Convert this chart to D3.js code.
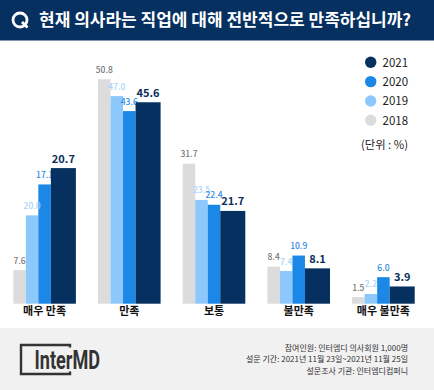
<!DOCTYPE html>
<html>
<head>
<meta charset="utf-8">
<script src="https://cdn.jsdelivr.net/npm/d3@7"></script>
<style>
  html, body { margin: 0; padding: 0; background: #fff; }
  svg { display: block; }
  text { font-family: "Noto Sans CJK KR", "Noto Sans", sans-serif; }
</style>
</head>
<body>
<svg id="chart" width="434" height="390"></svg>
<script>
const categories = ["매우 만족", "만족", "보통", "불만족", "매우 불만족"];
const years = ["2018", "2019", "2020", "2021"];

// printed labels
const labels2018 = [7.6, 50.8, 31.7, 8.4, 1.5];
const labels2019 = [20.0, 47.0, 23.5, 7.4, 2.2];
const labels2020 = [17.1, 43.6, 22.4, 10.9, 6.0];
const labels2021 = [20.7, 45.6, 21.7, 8.1, 3.9];

// bar heights as drawn. the first group's 2020 and 2021 bars are taller
// in the picture than their printed numbers, so they are read separately
const bars2018 = [7.6, 50.8, 31.7, 8.4, 1.5];
const bars2019 = [20.0, 47.0, 23.5, 7.4, 2.2];
const bars2020 = [27.0, 43.6, 22.4, 10.9, 6.0];
const bars2021 = [30.7, 45.6, 21.0, 8.0, 3.9];

const footerLines = [
  "참여인원: 인터엠디 의사회원 1,000명",
  "설문 기간: 2021년 11월 23일~2021년 11월 25일",
  "설문조사 기관: 인터엠디컴퍼니"
];

const colors = { "2018": "#dcdcdc", "2019": "#8cc8fb", "2020": "#1b87e6", "2021": "#06305f" };
const labelColors = { "2018": "#777777", "2019": "#a5d3fb", "2020": "#2f8ae0", "2021": "#0a2f5c" };

const svg = d3.select("#chart");

// header
svg.append("rect").attr("width", 434).attr("height", 40.5).attr("fill", "#06305f");
svg.append("circle").attr("cx", 20).attr("cy", 20).attr("r", 7)
  .attr("fill", "none").attr("stroke", "#fff").attr("stroke-width", 2.8);
svg.append("line").attr("x1", 22).attr("y1", 22).attr("x2", 27.5).attr("y2", 27.5)
  .attr("stroke", "#fff").attr("stroke-width", 2.8);
svg.append("text").attr("x", 39).attr("y", 26)
  .attr("font-size", 17).attr("font-weight", 700).attr("fill", "#fff")
  .text("현재 의사라는 직업에 대해 전반적으로 만족하십니까?");

// scales
const baseline = 303.7;
const yScale = d3.scaleLinear().domain([0, 50.8]).range([baseline, 79.3]);
const xGroup = d3.scaleBand().domain(categories).range([13.3, 414.7]).paddingInner(0.261);

// dark bar is twice the others, so the inner band has 5 steps
const xInner = d3.scaleBand().domain(["2018", "2019", "2020", "2021", "_"]).range([0, xGroup.bandwidth()]);
const barWidth = y => (y === "2021" ? xInner.bandwidth() * 2 : xInner.bandwidth());

const barRows = { "2018": bars2018, "2019": bars2019, "2020": bars2020, "2021": bars2021 };
const labelRows = { "2018": labels2018, "2019": labels2019, "2020": labels2020, "2021": labels2021 };
const rowsFor = year => categories.map((c, i) => ({ c, bar: barRows[year][i], label: labelRows[year][i] }));

const drawBars = year => {
  svg.append("g").selectAll("rect").data(rowsFor(year)).join("rect")
    .attr("x", d => xGroup(d.c) + xInner(year))
    .attr("y", d => yScale(d.bar))
    .attr("width", barWidth(year))
    .attr("height", d => baseline - yScale(d.bar))
    .attr("fill", colors[year]);
};

const drawLabels = year => {
  const isDark = year === "2021";
  svg.append("g").selectAll("text").data(rowsFor(year)).join("text")
    .attr("x", d => xGroup(d.c) + xInner(year) + barWidth(year) / 2)
    .attr("y", d => yScale(d.bar) - (isDark ? 5.5 : 6.5))
    .attr("text-anchor", "middle")
    .attr("font-size", isDark ? 11 : 8.5)
    .attr("font-weight", isDark ? 700 : 500)
    .attr("fill", labelColors[year])
    .text(d => d.label.toFixed(1));
};

// the dark bars sit over the 2020 labels, same as the reference
years.filter(y => y !== "2021").forEach(drawBars);
years.filter(y => y !== "2021").forEach(drawLabels);
drawBars("2021");
drawLabels("2021");

// category axis
const axis = svg.append("g")
  .attr("transform", `translate(0,${baseline})`)
  .call(d3.axisBottom(xGroup).tickSize(0).tickPadding(3));
axis.select(".domain").remove();
axis.selectAll("text")
  .style("font-family", '"Noto Sans CJK KR", sans-serif')
  .attr("font-size", 11).attr("font-weight", 700).attr("fill", "#111");

// legend
const legendY = d3.scalePoint().domain(years.slice().reverse()).range([62.3, 120.3]);
const legend = svg.append("g");
years.forEach(year => {
  legend.append("circle").attr("cx", 370.7).attr("cy", legendY(year)).attr("r", 5.7).attr("fill", colors[year]);
  legend.append("text").attr("x", 382.5).attr("y", legendY(year) + 4.3)
    .attr("font-size", 11.5).attr("fill", "#222").text(year);
});
svg.append("text").attr("x", 408).attr("y", 149).attr("text-anchor", "end")
  .attr("font-size", 11.3).attr("fill", "#222").text("(단위 : %)");

// footer
svg.append("rect").attr("y", 328).attr("width", 434).attr("height", 62).attr("fill", "#f1f1f1");
const logo = svg.append("g");
logo.append("path").attr("d", "M 70 347.5 L 70 345 L 21 345 L 21 374 L 70 374 L 70 371.5")
  .attr("fill", "none").attr("stroke", "#333").attr("stroke-width", 2.4);
logo.append("text").attr("x", 34.5).attr("y", 369)
  .attr("font-size", 25).attr("font-weight", 700).attr("fill", "#333")
  .style("font-family", '"Liberation Sans Narrow", "Roboto", sans-serif')
  .attr("textLength", 65.5).attr("lengthAdjust", "spacingAndGlyphs")
  .text("InterMD");

svg.append("g").selectAll("text").data(footerLines).join("text")
  .attr("x", 408).attr("y", (d, i) => 351 + i * 11.4)
  .attr("text-anchor", "end").attr("font-size", 8).attr("fill", "#333")
  .text(d => d);
</script>
</body>
</html>
